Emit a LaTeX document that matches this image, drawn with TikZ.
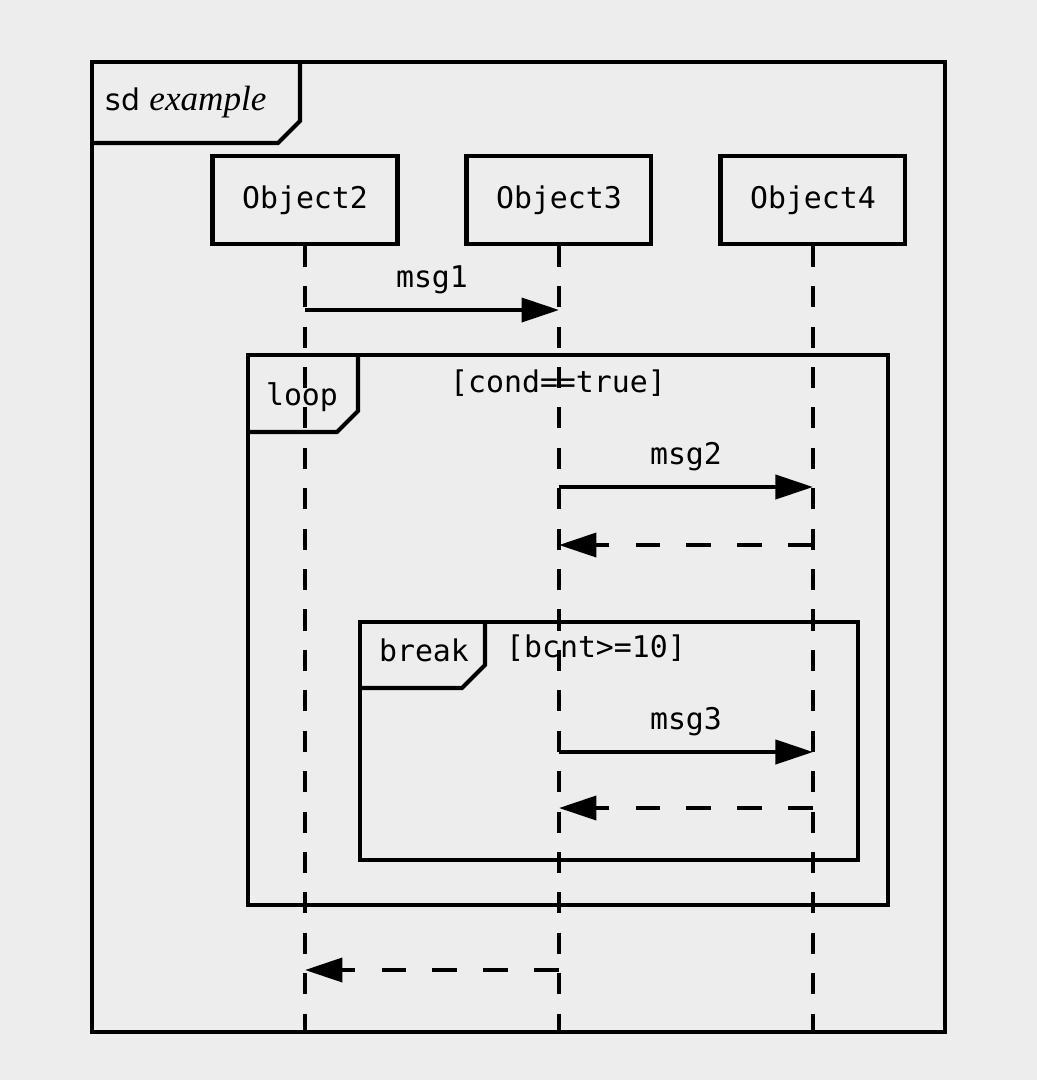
\documentclass[tikz,border=0pt]{standalone}
\usepackage{fontspec}
\setmonofont{DejaVu Sans Mono}
\setsansfont{DejaVu Sans}
\newfontfamily\exfont{Liberation Serif}
\usepackage{tikz}
\usetikzlibrary{arrows.meta, positioning}

\begin{document}
\begin{tikzpicture}[
        x=0.02cm, y=-0.02cm,
        node distance=0.9cm and 1.3cm,
        obj/.style={draw, line width=2.3pt, minimum height=1.75cm, minimum width=3.7cm, font=\ttfamily\fontsize{17}{20}\selectfont},
        lbl/.style={inner sep=1pt, font=\ttfamily\fontsize{17}{20}\selectfont},
        life/.style={line width=2.3pt, dash pattern=on 12pt off 11pt},
        frm/.style={line width=2.4pt},
        msg/.style={-{Triangle[length=7.5mm,width=4.8mm]}, line width=2.3pt},
        ret/.style={msg, dash pattern=on 14pt off 15pt}
    ]
        % background and page size
        \fill[gray!14] (0,0) rectangle (1037,1080);
        \useasboundingbox (0,0) rectangle (1037,1080);

        % outer frame
        \draw[frm] (92,62) rectangle (945,1032);
        \draw[frm] (92,143) -- (278,143) -- (300,121) -- (300,62);
        \node[inner sep=1pt] (sd) at (186,102) {\sffamily\fontsize{17}{20}\selectfont sd \exfont\itshape\fontsize{20}{24}\selectfont example};

        % lifelines
        \node[obj] (obj2) at (305,200) {Object2};
        \node[obj, right=of obj2] (obj3) {Object3};
        \node[obj, right=of obj3] (obj4) {Object4};
        \coordinate (end2) at (obj2 |- 0,1032);
        \coordinate (end3) at (obj3 |- 0,1032);
        \coordinate (end4) at (obj4 |- 0,1032);
        \draw[life] (obj2) -- (end2);
        \draw[life] (obj3) -- (end3);
        \draw[life] (obj4) -- (end4);

        % msg1
        \coordinate (a1) at (obj2 |- 0,310);
        \coordinate (b1) at (obj3 |- 0,310);
        \draw[msg] (a1) -- (b1) node[lbl, midway, above=0.25cm] (m1) {msg1};

        % loop fragment
        \draw[frm] (248,355) rectangle (888,905);
        \draw[frm] (248,432) -- (337,432) -- (358,411) -- (358,355);
        \node[lbl] (loop) at (302,397) {loop};
        \node[lbl] (cond) at (558,383) {[cond==true]};

        \coordinate (b2) at (obj3 |- 0,487);
        \coordinate (c2) at (obj4 |- 0,487);
        \draw[msg] (b2) -- (c2) node[lbl, midway, above=0.25cm] (m2) {msg2};
        \coordinate (c2r) at (obj4 |- 0,545);
        \coordinate (b2r) at (obj3 |- 0,545);
        \draw[ret] (c2r) -- (b2r);

        % break fragment
        \draw[frm] (360,622) rectangle (858,860);
        \draw[frm] (360,688) -- (462,688) -- (485,665) -- (485,622);
        \node[lbl] (brk) at (424,650) {break};
        \node[lbl] (bcnt) at (596,648) {[bcnt>=10]};

        \coordinate (b3) at (obj3 |- 0,752);
        \coordinate (c3) at (obj4 |- 0,752);
        \draw[msg] (b3) -- (c3) node[lbl, midway, above=0.25cm] (m3) {msg3};
        \coordinate (c3r) at (obj4 |- 0,808);
        \coordinate (b3r) at (obj3 |- 0,808);
        \draw[ret] (c3r) -- (b3r);

        % final reply
        \coordinate (b4) at (obj3 |- 0,970);
        \coordinate (a4) at (obj2 |- 0,970);
        \draw[ret] (b4) -- (a4);
    \end{tikzpicture}
\end{document}
